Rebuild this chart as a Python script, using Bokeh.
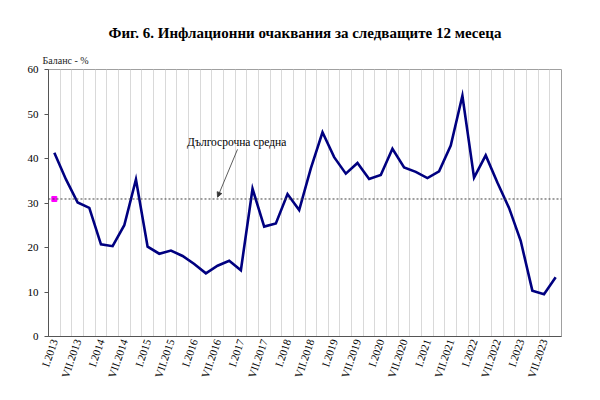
import math
from bokeh.plotting import figure
from bokeh.models import (Range1d, FixedTicker, Label, Span, Arrow, NormalHead,
                          ColumnDataSource, Title)
from bokeh.embed import file_html
from bokeh.resources import INLINE

# ---- data ----
years = list(range(2013, 2024))
quarters = ["I", "IV", "VII", "X"]
periods = [f"{q}.{y}" for y in years for q in quarters]
balance = [41.3, 35.3, 30.1, 28.9, 20.7, 20.3, 25.0, 35.3,
           20.2, 18.6, 19.3, 18.1, 16.3, 14.2, 15.9, 17.0,
           14.9, 33.2, 24.7, 25.4, 32.0, 28.4, 37.8, 45.9,
           40.3, 36.6, 39.0, 35.4, 36.3, 42.2, 38.0, 37.0,
           35.6, 37.1, 42.9, 54.1, 35.7, 40.7, 34.6, 28.9,
           21.5, 10.3, 9.5, 13.3]
long_term_avg = 30.9
title_text = "Фиг. 6. Инфлационни очаквания за следващите 12 месеца"
y_label = "Баланс - %"
note_text = "Дългосрочна средна"
y_ticks = [0, 10, 20, 30, 40, 50, 60]

idx = list(range(len(periods)))
label_ticks = [i for i in idx if periods[i].startswith(("I.", "VII."))]
overrides = {i: periods[i] for i in label_ticks}

serif = "Liberation Serif"

p = figure(width=584, height=384, output_backend="svg", toolbar_location=None,
           x_range=Range1d(-0.5, len(periods) - 0.5), y_range=Range1d(0, 60),
           min_border_left=48, min_border_right=23, min_border_top=69,
           min_border_bottom=48)
p.background_fill_color = "white"
p.border_fill_color = "white"
p.outline_line_color = "#a0a0a0"
p.outline_line_width = 1

# titles
p.title.text = title_text
p.title.align = "center"
p.title.text_font = serif
p.title.text_font_size = "15px"
p.title.text_font_style = "bold"
p.title.text_color = "black"
p.title.standoff = 17
p.add_layout(Title(text=y_label, align="left", offset=-6, text_font=serif,
                   text_font_size="10px", text_font_style="normal",
                   text_color="#222222", standoff=7), "above")

# grid
p.ygrid.grid_line_color = None
p.xgrid.ticker = FixedTicker(ticks=[i + 0.5 for i in idx[:-1]])
p.xgrid.grid_line_color = "#d9d9d9"
p.xgrid.grid_line_width = 1

# y axis
p.yaxis.ticker = FixedTicker(ticks=y_ticks)
p.yaxis.axis_line_color = "#555555"
p.yaxis.major_tick_line_color = "#555555"
p.yaxis.major_tick_out = 4
p.yaxis.major_tick_in = 0
p.yaxis.minor_tick_line_color = None
p.yaxis.major_label_text_font = serif
p.yaxis.major_label_text_font_size = "11px"
p.yaxis.major_label_text_color = "black"
p.yaxis.major_label_standoff = 6

# x axis
p.xaxis.ticker = FixedTicker(ticks=label_ticks)
p.xaxis.major_label_overrides = overrides
p.xaxis.major_label_orientation = math.radians(71)
p.xaxis.axis_line_color = "#555555"
p.xaxis.major_tick_out = 0
p.xaxis.major_tick_in = 0
p.xaxis.minor_tick_line_color = None
p.xaxis.major_label_text_font = serif
p.xaxis.major_label_text_font_size = "11px"
p.xaxis.major_label_text_color = "black"
p.xaxis.major_label_standoff = 3

# long-term average
p.add_layout(Span(location=long_term_avg, dimension="width",
                  line_color="#404040", line_dash="2 2", line_width=1))
p.scatter([0], [long_term_avg], marker="square", size=5,
          color="#ff00ff")

# series
src = ColumnDataSource(dict(x=idx, y=balance))
p.line("x", "y", source=src, line_color="#000080", line_width=2.6,
       line_join="miter")

# annotation
p.add_layout(Label(x=15.64, y=43.7, text=note_text, text_align="center",
                   text_baseline="alphabetic", text_font=serif,
                   text_font_size="11.5px", text_color="black"))
p.add_layout(Arrow(x_start=15.71, y_start=42.05, x_end=14.0, y_end=31.3,
                   line_color="#333333", line_width=0.8,
                   end=NormalHead(size=5, line_color="#333333",
                                  fill_color="#333333", line_width=0.8)))

open("out.html", "w").write(file_html(p, INLINE))
